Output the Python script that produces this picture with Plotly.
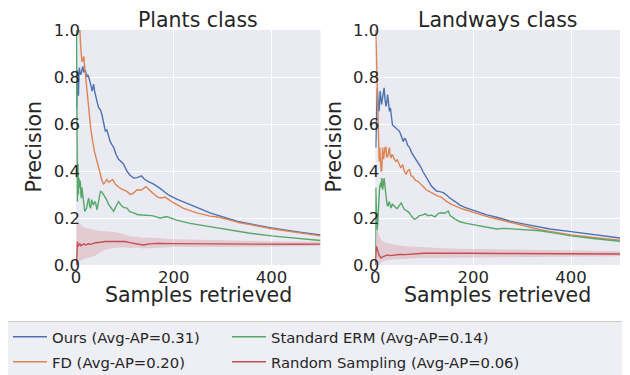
import plotly.graph_objects as go

# ---------------- data ----------------
series_names = ["Ours (Avg-AP=0.31)", "FD (Avg-AP=0.20)",
                "Standard ERM (Avg-AP=0.14)", "Random Sampling (Avg-AP=0.06)"]
panel_titles = ["Plants class", "Landways class"]
x_ticks = [0, 200, 400]
y_ticks = [0.0, 0.2, 0.4, 0.6, 0.8, 1.0]

# Plants class
plants_ours_k = [1, 2, 3, 4, 5, 6, 7, 8, 10, 12, 14, 16, 19, 22, 24, 26, 29, 31, 33, 36, 38, 41, 44, 46,
                 50, 53, 57, 60, 63, 67, 70, 74, 77, 82, 87, 92, 97, 104, 110, 118, 125, 134, 140, 148,
                 158, 172, 189, 206, 220, 247, 274, 301, 329, 356, 400, 450, 500]
plants_ours_p = [0.67, 0.75, 0.83, 0.78, 0.72, 0.80, 0.84, 0.82, 0.81, 0.83, 0.845, 0.82, 0.83, 0.80, 0.81,
                 0.80, 0.78, 0.76, 0.74, 0.77, 0.74, 0.71, 0.69, 0.67, 0.66, 0.64, 0.60, 0.57, 0.575, 0.55,
                 0.525, 0.51, 0.50, 0.47, 0.45, 0.44, 0.43, 0.40, 0.383, 0.37, 0.372, 0.379, 0.365, 0.355,
                 0.345, 0.326, 0.298, 0.28, 0.269, 0.245, 0.222, 0.203, 0.186, 0.175, 0.158, 0.142, 0.128]

plants_fd_k = [1, 2, 4, 6, 8, 9, 10, 12, 14, 16, 17, 18, 21, 24, 26, 29, 30, 34, 38, 43, 47, 50, 53, 56,
               59, 63, 67, 71, 75, 80, 90, 97, 104, 111, 117, 125, 134, 143, 150, 160, 168, 175, 182, 199,
               220, 247, 274, 290, 315, 335, 356, 400, 450, 500]
plants_fd_p = [1.0, 1.0, 1.0, 1.0, 1.0, 0.95, 0.90, 0.866, 0.87, 0.888, 0.86, 0.838, 0.76, 0.70, 0.654,
               0.60, 0.583, 0.527, 0.48, 0.441, 0.40, 0.385, 0.36, 0.345, 0.35, 0.364, 0.352, 0.358, 0.364,
               0.345, 0.327, 0.32, 0.313, 0.30, 0.305, 0.32, 0.319, 0.333, 0.318, 0.30, 0.288, 0.285,
               0.289, 0.265, 0.241, 0.222, 0.208, 0.204, 0.191, 0.18, 0.172, 0.154, 0.139, 0.124]

plants_erm_k = [1, 2, 3, 4, 5, 6, 7, 8, 9, 10, 11, 12, 13, 14, 16, 18, 20, 22, 24, 26, 28, 30, 32, 34, 36,
                38, 40, 43, 46, 50, 53, 57, 62, 67, 72, 77, 82, 87, 92, 97, 104, 110, 118, 125, 135, 145,
                155, 165, 172, 185, 195, 206, 233, 274, 315, 335, 356, 400, 450, 500]
plants_erm_p = [1.0, 0.5, 0.27, 0.43, 0.30, 0.37, 0.33, 0.36, 0.35, 0.30, 0.285, 0.33, 0.31, 0.30, 0.25,
                0.228, 0.235, 0.245, 0.27, 0.285, 0.25, 0.242, 0.278, 0.26, 0.257, 0.27, 0.265, 0.235,
                0.27, 0.313, 0.31, 0.299, 0.28, 0.257, 0.24, 0.228, 0.25, 0.27, 0.255, 0.245, 0.242,
                0.227, 0.222, 0.215, 0.213, 0.213, 0.21, 0.205, 0.199, 0.206, 0.198, 0.191, 0.177,
                0.163, 0.149, 0.141, 0.135, 0.124, 0.113, 0.104]

plants_rand_k = [1, 2, 3, 4, 6, 8, 10, 13, 16, 20, 25, 30, 35, 40, 50, 60, 80, 100, 110, 125, 137, 150,
                 165, 200, 250, 300, 335, 400, 450, 500]
plants_rand_p = [0.0, 0.08, 0.10, 0.08, 0.085, 0.09, 0.082, 0.087, 0.09, 0.085, 0.09, 0.088, 0.093, 0.095,
                 0.097, 0.10, 0.10, 0.10, 0.095, 0.09, 0.085, 0.09, 0.092, 0.091, 0.09, 0.09, 0.089,
                 0.087, 0.088, 0.089]
plants_rand_hi = [0.2, 0.2, 0.19, 0.18, 0.18, 0.175, 0.17, 0.165, 0.16, 0.158, 0.155, 0.15, 0.15, 0.148,
                  0.145, 0.143, 0.14, 0.13, 0.121, 0.12, 0.115, 0.117, 0.115, 0.11, 0.107, 0.105, 0.102,
                  0.1, 0.099, 0.099]
plants_rand_lo = [0.0, 0.0, 0.005, 0.01, 0.015, 0.016, 0.02, 0.022, 0.025, 0.028, 0.03, 0.033, 0.037,
                  0.04, 0.055, 0.065, 0.073, 0.076, 0.072, 0.075, 0.07, 0.072, 0.074, 0.077, 0.077,
                  0.077, 0.075, 0.078, 0.08, 0.081]

# Landways class
land_ours_k = [1, 2, 3, 4, 5, 6, 7, 8, 9, 10, 11, 12, 13, 14, 16, 18, 20, 22, 24, 25, 27, 29, 31, 33, 35,
               38, 42, 45, 49, 53, 57, 60, 63, 66, 70, 75, 80, 86, 92, 97, 104, 110, 115, 120, 125, 132,
               139, 146, 153, 163, 173, 183, 193, 207, 228, 248, 275, 302, 330, 357, 400, 450, 500]
land_ours_p = [0.5, 0.6, 0.754, 0.754, 0.72, 0.68, 0.654, 0.66, 0.70, 0.74, 0.72, 0.70, 0.683, 0.70, 0.72,
               0.754, 0.70, 0.675, 0.70, 0.725, 0.69, 0.654, 0.668, 0.62, 0.597, 0.59, 0.583, 0.575,
               0.57, 0.55, 0.525, 0.54, 0.53, 0.51, 0.50, 0.475, 0.46, 0.441, 0.42, 0.399, 0.375, 0.35,
               0.335, 0.325, 0.315, 0.312, 0.308, 0.297, 0.284, 0.27, 0.255, 0.245, 0.238, 0.231, 0.213,
               0.203, 0.187, 0.175, 0.163, 0.153, 0.142, 0.128, 0.115]

land_fd_k = [1, 2, 3, 4, 5, 6, 7, 8, 9, 10, 11, 12, 13, 14, 15, 16, 17, 18, 20, 22, 23, 25, 27, 29, 30,
             32, 34, 36, 39, 42, 45, 49, 52, 56, 59, 63, 66, 70, 73, 77, 82, 87, 92, 97, 104, 110, 116,
             122, 128, 134, 140, 146, 156, 166, 176, 186, 197, 207, 234, 261, 295, 323, 337, 357, 400,
             450, 500]
land_fd_p = [1.0, 0.9, 0.8, 0.75, 0.6, 0.5, 0.5, 0.44, 0.5, 0.45, 0.42, 0.4, 0.4, 0.46, 0.5, 0.47, 0.45,
             0.47, 0.5, 0.5, 0.46, 0.46, 0.48, 0.5, 0.47, 0.455, 0.47, 0.465, 0.45, 0.441, 0.448, 0.425,
             0.413, 0.427, 0.40, 0.385, 0.40, 0.406, 0.38, 0.375, 0.36, 0.356, 0.345, 0.335, 0.32, 0.313,
             0.306, 0.298, 0.293, 0.29, 0.28, 0.27, 0.258, 0.248, 0.24, 0.234, 0.225, 0.22, 0.203,
             0.189, 0.17, 0.157, 0.15, 0.143, 0.128, 0.116, 0.106]

land_erm_k = [0, 1, 2, 3, 4, 5, 6, 7, 8, 9, 10, 11, 12, 13, 14, 15, 16, 17, 18, 19, 20, 22, 24, 26, 28,
              30, 32, 35, 38, 41, 45, 49, 53, 56, 60, 65, 70, 75, 80, 85, 90, 96, 102, 108, 115, 122,
              129, 136, 142, 149, 153, 163, 173, 186, 200, 214, 234, 248, 261, 289, 316, 337, 357, 400,
              450, 500]
land_erm_p = [0.0, 0.33, 0.25, 0.2, 0.15, 0.18, 0.25, 0.30, 0.30, 0.33, 0.34, 0.35, 0.33, 0.37, 0.36,
              0.32, 0.34, 0.36, 0.37, 0.35, 0.33, 0.30, 0.257, 0.25, 0.27, 0.26, 0.242, 0.26, 0.25, 0.245,
              0.24, 0.25, 0.265, 0.25, 0.235, 0.23, 0.22, 0.205, 0.194, 0.20, 0.21, 0.212, 0.218, 0.21,
              0.212, 0.205, 0.22, 0.222, 0.22, 0.23, 0.21, 0.195, 0.184, 0.177, 0.172, 0.167, 0.159,
              0.153, 0.156, 0.153, 0.149, 0.146, 0.139, 0.124, 0.112, 0.101]

land_rand_k = [0, 1, 2, 3, 4, 6, 8, 10, 12, 15, 20, 25, 30, 35, 40, 50, 60, 80, 100, 120, 150, 200, 250,
               300, 350, 400, 450, 500]
land_rand_p = [0.0, 0.07, 0.08, 0.075, 0.065, 0.05, 0.04, 0.035, 0.03, 0.035, 0.04, 0.043, 0.04, 0.042,
               0.043, 0.045, 0.044, 0.048, 0.05, 0.05, 0.051, 0.05, 0.049, 0.048, 0.048, 0.047, 0.047,
               0.047]
land_rand_hi = [0.2, 0.2, 0.19, 0.17, 0.16, 0.14, 0.125, 0.115, 0.11, 0.1, 0.095, 0.092, 0.09, 0.088,
                0.085, 0.083, 0.08, 0.078, 0.075, 0.072, 0.07, 0.068, 0.066, 0.064, 0.061, 0.06, 0.059,
                0.058]
land_rand_lo = [0.0, 0.0, 0.0, 0.0, 0.0, 0.0, 0.0, 0.005, 0.01, 0.015, 0.018, 0.02, 0.022, 0.023, 0.024,
                0.025, 0.027, 0.029, 0.03, 0.03, 0.032, 0.033, 0.033, 0.034, 0.035, 0.036, 0.037, 0.037]

# ---------------- styling ----------------
W, H = 630, 375
OFF = 8  # page body margin: the figure is drawn 8 px from the window's top-left corner
FONT = "DejaVu Sans"
TXT = "#262626"
BG = "#EAEAF2"
colors = ["#4C72B0", "#DD8452", "#55A868", "#C44E52"]
band_color = "rgba(196,78,82,0.2)"


def px_x(v):
    return (v - OFF) / W


def px_y(v):
    return 1 - (v - OFF) / H


fig = go.Figure()

panels = [
    dict(xa="x", ya="y",
         lines=[(plants_ours_k, plants_ours_p), (plants_fd_k, plants_fd_p),
                (plants_erm_k, plants_erm_p), (plants_rand_k, plants_rand_p)],
         band=(plants_rand_k, plants_rand_lo, plants_rand_hi)),
    dict(xa="x2", ya="y2",
         lines=[(land_ours_k, land_ours_p), (land_fd_k, land_fd_p),
                (land_erm_k, land_erm_p), (land_rand_k, land_rand_p)],
         band=(land_rand_k, land_rand_lo, land_rand_hi)),
]

legend_of = ["legend", "legend2", "legend", "legend2"]
legend_w = [170, 170, 240, 270]

for pi, panel in enumerate(panels):
    bk, blo, bhi = panel["band"]
    fig.add_trace(go.Scatter(x=bk, y=blo, mode="lines", line=dict(width=0, color=band_color),
                             showlegend=False, hoverinfo="skip", xaxis=panel["xa"], yaxis=panel["ya"]))
    fig.add_trace(go.Scatter(x=bk, y=bhi, mode="lines", line=dict(width=0, color=band_color),
                             fill="tonexty", fillcolor=band_color, showlegend=False, hoverinfo="skip",
                             xaxis=panel["xa"], yaxis=panel["ya"]))
    for si, (k, p) in enumerate(panel["lines"]):
        fig.add_trace(go.Scatter(x=k, y=p, mode="lines", name=series_names[si],
                                 line=dict(color=colors[si], width=1.4),
                                 showlegend=(pi == 0), legend=legend_of[si], legendwidth=legend_w[si],
                                 xaxis=panel["xa"], yaxis=panel["ya"]))

x_domains = [[px_x(76), px_x(320.5)], [px_x(375.3), px_x(620)]]
y_domain = [px_y(265), px_y(30)]

axis_common = dict(showgrid=True, gridcolor="white", gridwidth=1.3, zeroline=False, showline=False,
                   ticks="", automargin=False, tickfont=dict(family=FONT, size=16.5, color=TXT))

legend_common = dict(orientation="h", xanchor="left", yanchor="top", bgcolor="rgba(0,0,0,0)",
                     borderwidth=0, itemwidth=34, traceorder="normal",
                     font=dict(family=FONT, size=14.8, color=TXT))

fig.update_layout(
    width=W, height=H, margin=dict(l=0, r=0, t=0, b=0, autoexpand=False),
    paper_bgcolor="white", plot_bgcolor=BG,
    font=dict(family=FONT, color=TXT),
    xaxis=dict(domain=x_domains[0], range=[0, 500], tickvals=x_ticks, anchor="y", **axis_common),
    yaxis=dict(domain=y_domain, range=[0, 1], tickvals=y_ticks, tickformat=".1f", anchor="x",
               ticklabelstandoff=-5, **axis_common),
    xaxis2=dict(domain=x_domains[1], range=[0, 500], tickvals=x_ticks, anchor="y2", **axis_common),
    yaxis2=dict(domain=y_domain, range=[0, 1], tickvals=y_ticks, tickformat=".1f", anchor="x2",
                ticklabelstandoff=-5, **axis_common),
    legend=dict(x=px_x(8), y=px_y(320.7), **legend_common),
    legend2=dict(x=px_x(8), y=px_y(345.7), **legend_common),
    shapes=[dict(type="rect", xref="paper", yref="paper", x0=px_x(7.5), x1=1.05, y0=-0.05,
                 y1=px_y(321.5), fillcolor="rgba(238,238,245,1)", line=dict(color="#CCCCCC", width=1),
                 layer="below")],
)

annotations = []
for i, t in enumerate(panel_titles):
    cx = (x_domains[i][0] + x_domains[i][1]) / 2
    annotations.append(dict(text=t, x=cx, y=px_y(20), xref="paper", yref="paper", showarrow=False,
                            xanchor="center", yanchor="middle",
                            font=dict(family=FONT, size=20.5, color=TXT)))
    annotations.append(dict(text="Samples retrieved", x=cx, y=px_y(295), xref="paper", yref="paper",
                            showarrow=False, xanchor="center", yanchor="middle",
                            font=dict(family=FONT, size=20.5, color=TXT)))
for xp in [33, 333]:
    annotations.append(dict(text="Precision", x=px_x(xp), y=px_y(147.5), xref="paper", yref="paper",
                            showarrow=False, xanchor="center", yanchor="middle", textangle=-90,
                            font=dict(family=FONT, size=20.5, color=TXT)))
fig.update_layout(annotations=annotations)

fig.write_html("out.html")
